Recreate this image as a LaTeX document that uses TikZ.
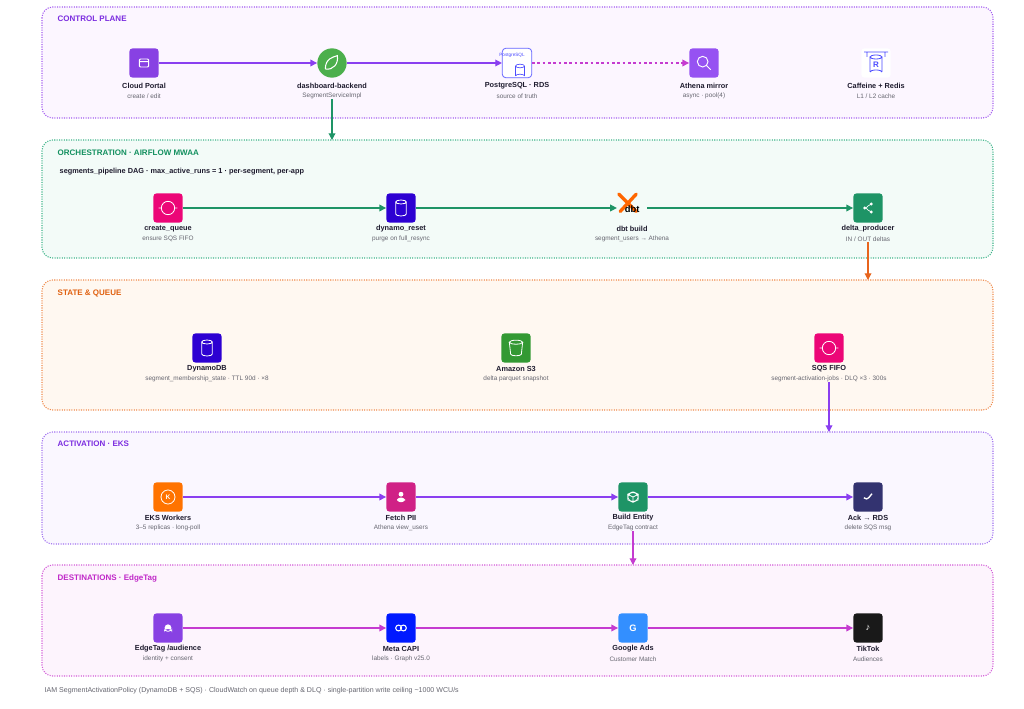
\documentclass[tikz,border=0pt]{standalone}
\usepackage{fontspec}
\setmainfont{Liberation Sans}
\usetikzlibrary{arrows.meta}
\definecolor{cpB}{HTML}{A35BF0}\definecolor{cpF}{HTML}{FCF6FF}
\definecolor{orB}{HTML}{3FB58A}\definecolor{orF}{HTML}{F3FBF8}
\definecolor{stB}{HTML}{F08A4B}\definecolor{stF}{HTML}{FFF8F1}
\definecolor{acB}{HTML}{A070F0}\definecolor{acF}{HTML}{FAF7FF}
\definecolor{deB}{HTML}{D35AD8}\definecolor{deF}{HTML}{FDF4FD}
\definecolor{cpT}{HTML}{7B2CE0}\definecolor{orT}{HTML}{13905F}
\definecolor{stT}{HTML}{E0600F}\definecolor{deT}{HTML}{C027C8}
\definecolor{arP}{HTML}{8A3FF0}\definecolor{arG}{HTML}{1E9466}
\definecolor{arO}{HTML}{E8641C}\definecolor{arM}{HTML}{C53BD0}
\definecolor{txt}{HTML}{1E1B2E}\definecolor{sub}{HTML}{666670}
\begin{document}
\begin{tikzpicture}[x=0.75pt,y=-0.75pt,
 panel/.style={draw=#1,densely dotted,line width=0.8pt,rounded corners=8pt},
 ptitle/.style={anchor=west,font=\fontsize{6}{7}\selectfont\bfseries,text=#1},
 ic/.style={draw=none,fill=#1,rounded corners=2.5pt,minimum size=22pt,inner sep=0pt},
 lab/.style={font=\fontsize{5.5}{6}\selectfont\bfseries,text=txt,inner sep=0pt},
 sb/.style={font=\fontsize{4.8}{5}\selectfont,text=sub,inner sep=0pt},
 ar/.style={draw=#1,line width=0.9pt,-{Triangle[length=5pt,width=5pt]},color=#1}]
\useasboundingbox[fill=white] (0,0) rectangle (1024,709);
% panels
\path[panel=cpB,fill=cpF] (42,7) rectangle (993,118);
\path[panel=orB,fill=orF] (42,140) rectangle (993,258);
\path[panel=stB,fill=stF] (42,280) rectangle (993,410);
\path[panel=acB,fill=acF] (42,432) rectangle (993,544);
\path[panel=deB,fill=deF] (42,565) rectangle (993,676);
\node[ptitle=cpT] (t1) at (53,19) {CONTROL PLANE};
\node[ptitle=orT] (t2) at (53,153) {ORCHESTRATION · AIRFLOW MWAA};
\node[ptitle=stT] (t3) at (53,293) {STATE \& QUEUE};
\node[ptitle=cpT] (t4) at (53,444) {ACTIVATION · EKS};
\node[ptitle=deT] (t5) at (53,578) {DESTINATIONS · EdgeTag};
\node[anchor=west,font=\fontsize{5.5}{6}\selectfont\bfseries,text=txt] (dag) at (55,172) {segments\_pipeline DAG · max\_active\_runs = 1 · per-segment, per-app};
\node[anchor=west,font=\fontsize{5.3}{6}\selectfont,text=sub] (foot) at (40,691) {IAM SegmentActivationPolicy (DynamoDB + SQS) · CloudWatch on queue depth \& DLQ · single-partition write ceiling \textasciitilde1000 WCU/s};
% control plane
\node[ic=cpT!90] (portal) at (144,63) {\tikz[x=1pt,y=1pt]\draw[white,line width=0.7pt,rounded corners=0.8pt](0,0)rectangle(7,6)(0,4)--(7,4);};
\node[circle,fill=green!55!black!70,minimum size=22pt,inner sep=0pt] (dash) at (332,63) {\tikz[x=1pt,y=1pt]\draw[white,line width=0.8pt](-4,-4)..controls(-4,4)and(2,5)..(5,6)..controls(6,0)and(2,-5)..(-4,-4);};
\node[ic=white,draw=blue!60,line width=0.6pt] (pg) at (517,63) {};
\node[font=\fontsize{3.5}{3.5}\selectfont,text=blue!70,inner sep=0pt] (pgt) at (512,55) {PostgreSQL};
\draw[blue!70,line width=0.5pt] (520,66) ellipse (4.5 and 1.8) (515.5,66)--(515.5,76) (524.5,66)--(524.5,76) (515.5,76) arc (180:360:4.5 and 1.8);
\node[ic=arP!90] (ath) at (704,63) {\tikz[x=1pt,y=1pt]\draw[white,line width=0.7pt](0,0)circle(4)(3,-3)--(6,-6);};
\node[ic=white] (cache) at (876,63) {};
\draw[blue!70,line width=0.6pt] (864,52)--(888,52) (867,52)--(867,57) (885,52)--(885,57) (876,57) ellipse (6 and 2) (870,57)--(870,72) (882,57)--(882,72) (870,72) arc (180:360:6 and 2);
\node[font=\fontsize{6}{6}\selectfont\bfseries,text=blue!70,inner sep=0pt] (cacheR) at (876,65) {R};
\foreach \n/\x/\a/\b in {portal/144/{Cloud Portal}/{create / edit}, dash/332/{dashboard-backend}/{SegmentServiceImpl}, pg/517/{PostgreSQL · RDS}/{source of truth}, ath/704/{Athena mirror}/{async · pool(4)}, cache/876/{Caffeine + Redis}/{L1 / L2 cache}}{
 \node[lab] (\n L) at (\x,86) {\a}; \node[sb] (\n S) at (\x,96) {\b};}
\draw[ar=arP] (portal) -- (dash);
\draw[ar=arP] (dash) -- (pg);
\draw[ar=arM,dash pattern=on 2pt off 2pt] (pg) -- (ath);
\draw[ar=arG] (dashS.south) -- (332,140);
% orchestration
\node[ic=magenta!80!red] (cq) at (168,208) {\tikz[x=1pt,y=1pt]\draw[white,line width=0.6pt](0,0)circle(5)(-7,0)--(-5,0)(5,0)--(7,0);};
\node[ic=blue!65!violet] (dr) at (401,208) {\tikz[x=1pt,y=1pt]\draw[white,line width=0.6pt](0,4)ellipse(4 and 1.5)(-4,4)--(-4,-5)(4,4)--(4,-5)(-4,-5)arc(180:360:4 and 1.5);};
\node[inner sep=0pt,minimum size=22pt] (dbt) at (632,208) {\tikz[x=1pt,y=1pt]{\draw[orange!80!red,line width=2.5pt,line cap=round](-7,7)--(6,-6)(6,7)--(-6,-6);\node[font=\fontsize{7}{7}\selectfont\bfseries] at (3,-4){dbt};}};
\node[ic=arG] (dp) at (868,208) {\tikz[x=1pt,y=1pt]{\fill[white](-3,0)circle(1.2)(2,3)circle(1.2)(2,-3)circle(1.2);\draw[white,line width=0.5pt](2,3)--(-3,0)--(2,-3);}};
\foreach \n/\x/\a/\b in {cq/168/{create\_queue}/{ensure SQS FIFO}, dr/401/{dynamo\_reset}/{purge on full\_resync}, dbt/632/{dbt build}/{segment\_users → Athena}, dp/868/{delta\_producer}/{IN / OUT deltas}}{
 \node[lab] (\n L) at (\x,229) {\a}; \node[sb] (\n S) at (\x,239) {\b};}
\draw[ar=arG] (cq) -- (dr);
\draw[ar=arG] (dr) -- (dbt);
\draw[ar=arG] (dbt) -- (dp);
\draw[ar=arO] (dpS.south) -- (868,280);
% state
\node[ic=blue!65!violet] (ddb) at (207,348) {\tikz[x=1pt,y=1pt]\draw[white,line width=0.6pt](0,4)ellipse(4 and 1.5)(-4,4)--(-4,-5)(4,4)--(4,-5)(-4,-5)arc(180:360:4 and 1.5);};
\node[ic=green!50!black!80] (s3) at (516,348) {\tikz[x=1pt,y=1pt]\draw[white,line width=0.6pt](0,4)ellipse(5 and 1.5)(-5,4)--(-4,-5)(5,4)--(4,-5)(-4,-5)arc(180:360:4 and 1.2);};
\node[ic=magenta!80!red] (sqs) at (829,348) {\tikz[x=1pt,y=1pt]\draw[white,line width=0.6pt](0,0)circle(5)(-7,0)--(-5,0)(5,0)--(7,0);};
\foreach \n/\x/\a/\b in {ddb/207/{DynamoDB}/{segment\_membership\_state · TTL 90d · ×8}, s3/516/{Amazon S3}/{delta parquet snapshot}, sqs/829/{SQS FIFO}/{segment-activation-jobs · DLQ ×3 · 300s}}{
 \node[lab] (\n L) at (\x,369) {\a}; \node[sb] (\n S) at (\x,379) {\b};}
\draw[ar=arP] (sqsS.south) -- (829,432);
% activation
\node[ic=orange!90!red] (eks) at (168,497) {\tikz[x=1pt,y=1pt]{\draw[white,line width=0.6pt](0:6)--(60:6)--(120:6)--(180:6)--(240:6)--(300:6)--cycle;\node[font=\fontsize{5}{5}\selectfont\bfseries,text=white] at (0,0){K};}};
\node[ic=magenta!70!violet] (pii) at (401,497) {\tikz[x=1pt,y=1pt]\fill[white](0,2)circle(1.8)(-3,-4)rectangle(3,-0.5);};
\node[ic=arG] (be) at (633,497) {\tikz[x=1pt,y=1pt]\draw[white,line width=0.6pt](0,4)--(4,2)--(4,-2)--(0,-4)--(-4,-2)--(-4,2)--cycle(0,0)--(0,-4)(0,0)--(4,2)(0,0)--(-4,2);};
\node[ic=black!70!blue!80] (ack) at (868,497) {\tikz[x=1pt,y=1pt]\draw[white,line width=1pt](-3,0)--(-1,-2)--(3,3);};
\foreach \n/\x/\a/\b in {eks/168/{EKS Workers}/{3–5 replicas · long-poll}, pii/401/{Fetch PII}/{Athena view\_users}, be/633/{Build Entity}/{EdgeTag contract}, ack/868/{Ack → RDS}/{delete SQS msg}}{
 \node[lab] (\n L) at (\x,518) {\a}; \node[sb] (\n S) at (\x,528) {\b};}
\draw[ar=arP] (eks) -- (pii);
\draw[ar=arP] (pii) -- (be);
\draw[ar=arP] (be) -- (ack);
\draw[ar=arM] (beS.south) -- (633,565);
% destinations
\node[ic=cpT!90] (et) at (168,628) {\tikz[x=1pt,y=1pt]\fill[white](-3,-2)rectangle(3,0)(0,1)circle(2.5);};
\node[ic=blue!90!cyan] (meta) at (401,628) {\tikz[x=1pt,y=1pt]\draw[white,line width=0.8pt](-1.8,0)circle(2.2)(1.8,0)circle(2.2);};
\node[ic=blue!55!cyan!80] (gads) at (633,628) {\textcolor{white}{\fontsize{7}{7}\selectfont\bfseries G}};
\node[ic=black!90] (tt) at (868,628) {\textcolor{white}{\fontsize{7}{7}\selectfont\bfseries ♪}};
\foreach \n/\x/\a/\b in {et/168/{EdgeTag /audience}/{identity + consent}, meta/401/{Meta CAPI}/{labels · Graph v25.0}, gads/633/{Google Ads}/{Customer Match}, tt/868/{TikTok}/{Audiences}}{
 \node[lab] (\n L) at (\x,649) {\a}; \node[sb] (\n S) at (\x,659) {\b};}
\draw[ar=arM] (et) -- (meta);
\draw[ar=arM] (meta) -- (gads);
\draw[ar=arM] (gads) -- (tt);
\end{tikzpicture}
\end{document}
